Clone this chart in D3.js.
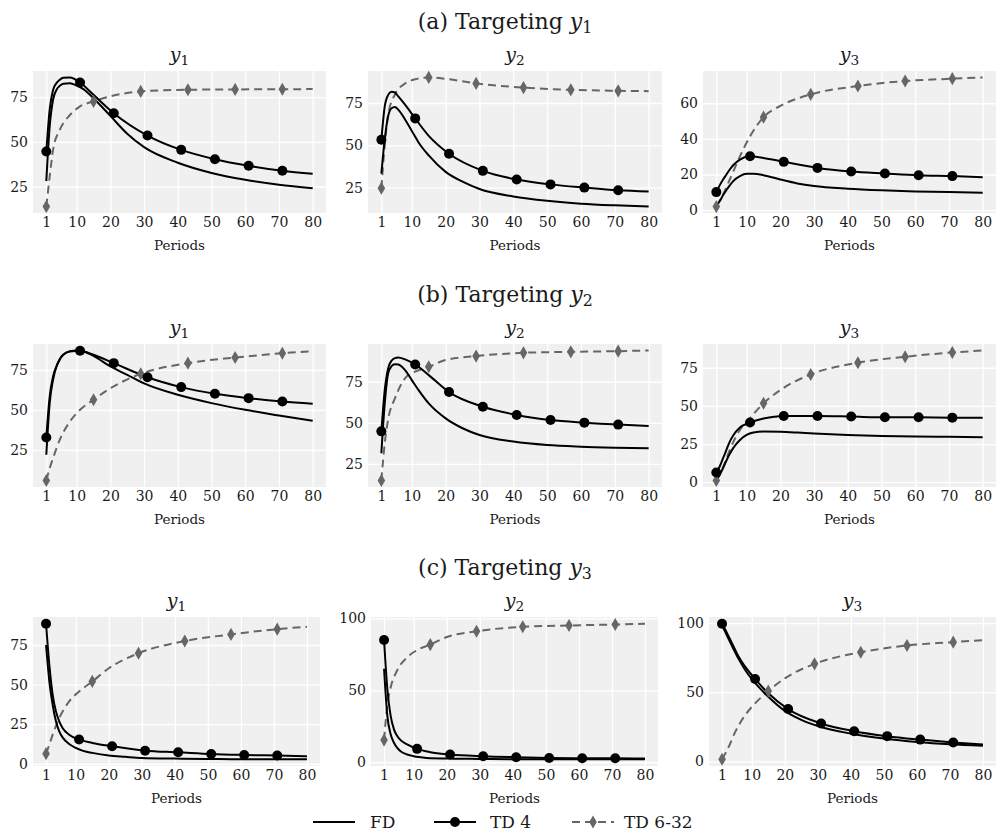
<!DOCTYPE html>
<html>
<head>
<meta charset="utf-8">
<script src="https://cdn.jsdelivr.net/npm/d3@7/dist/d3.min.js"></script>
<style>
  body { margin: 0; background: #fff; }
  svg text { fill: #1a1a1a; font-family: "DejaVu Serif"; }
</style>
</head>
<body>
<svg id="chart" width="996" height="836"></svg>
<script>
// ── data ────────────────────────────────────────────────────────────────────
const periodsFD    = [1, 2, 3, 4, 5, 6, 8, 10, 12, 15, 20, 25, 30, 40, 50, 60, 70, 80];
const periodsTD4   = [1, 2, 3, 4, 5, 6, 8, 11, 15, 21, 31, 41, 51, 61, 71, 80];
const periodsTD632 = [1, 2, 3, 5, 8, 11, 15, 20, 29, 43, 57, 71, 80];
const markersTD4   = [1, 11, 21, 31, 41, 51, 61, 71];
const markersTD632 = [1, 15, 29, 43, 57, 71];
const xTicks = [1, 10, 20, 30, 40, 50, 60, 70, 80];

const rowLabels = ["a", "b", "c"];
const targets = ["1", "2", "3"];
const responses = ["1", "2", "3"];

// (a) Targeting y1 — panels y1, y2, y3
const fdA = [
  [28, 58.6, 73.5, 79, 81.3, 82.5, 82.8, 81.5, 79.5, 74.4, 64.5, 54.5, 47, 38.3, 32.6, 28.8, 26, 24.1],
  [33.3, 53.7, 67.2, 71.9, 72.7, 71.1, 65.3, 58.5, 51.7, 44, 34.3, 28.5, 24.2, 19.8, 17.2, 15.5, 14.5, 13.8],
  [2.3, 5.1, 8.3, 11.3, 13.9, 16.3, 19.1, 20.4, 20.4, 19.6, 17.2, 15, 13.5, 12, 11.1, 10.5, 10.1, 9.8]
];
const td4A = [
  [44.6, 68, 79, 82.8, 84.7, 85.8, 86, 83.2, 76.3, 66, 53.5, 45.5, 40.3, 36.6, 33.8, 32.1],
  [53.3, 73, 79.8, 81.6, 81.2, 78.9, 74, 65.9, 55.6, 45, 34.9, 29.8, 26.9, 25, 23.4, 22.7],
  [10.1, 13.9, 17.2, 20, 22.8, 25.2, 28.4, 30.2, 29.3, 27.1, 23.7, 21.7, 20.6, 19.6, 19.1, 18.5]
];
const td632A = [
  [13.8, 30.6, 45.5, 56.7, 65, 69.8, 72.6, 75.4, 78.2, 79.1, 79.3, 79.4, 79.5],
  [24.6, 50, 68, 80, 86.5, 89, 90.1, 89.3, 86.6, 84.1, 82.8, 82.2, 82],
  [2, 5.1, 8.8, 17.2, 30.2, 41.4, 52.2, 58.5, 65, 69.7, 72.5, 73.8, 74.5]
];

// (b) Targeting y2
const fdB = [
  [21.9, 54.2, 68.8, 77.1, 81.7, 84.4, 86.7, 87.1, 86.5, 83.8, 77.1, 71.9, 66.5, 59.4, 54.2, 50, 46.5, 43.1],
  [31.5, 61.8, 80, 84.5, 85.7, 85.5, 82.1, 76, 69.9, 61.8, 52.7, 46.7, 42.6, 38.6, 36.5, 35.5, 34.9, 34.5],
  [1.1, 4.8, 9.2, 14.2, 18.6, 22.3, 27.7, 31, 32.5, 33.2, 33, 32.5, 31.9, 31, 30.3, 29.9, 29.7, 29.5]
];
const td4B = [
  [32.7, 58.3, 70.8, 77.1, 81.7, 84.4, 86.5, 86.9, 84.4, 79.2, 70.4, 64.2, 60, 57.3, 55.2, 53.8],
  [44.8, 69.9, 83.1, 87.8, 89.4, 89.8, 88.6, 85.5, 79, 68.7, 59.8, 54.8, 51.7, 50.1, 48.9, 48.1],
  [6.4, 10.3, 15.7, 21.2, 26.6, 30.6, 35.8, 39.1, 41.7, 43.4, 43.4, 43, 42.5, 42.5, 42.3, 42.3]
];
const td632B = [
  [5.8, 13.5, 19.8, 31.3, 42.7, 50, 56.3, 63.5, 72.5, 79.2, 82.7, 85.4, 86.7],
  [14.9, 37.6, 52, 64.9, 77, 81.1, 84.1, 88.2, 90.6, 92.6, 93.2, 93.6, 94],
  [1.1, 4.8, 9.9, 21.2, 34.3, 42, 51.7, 60.4, 70.6, 78.3, 82.2, 85, 86.3]
];

// (c) Targeting y3
const fdC = [
  [75, 52, 37.3, 26.8, 20.5, 16.7, 12.5, 10, 8.3, 6.9, 5.2, 4.4, 3.7, 3.3, 3.1, 2.9, 2.9, 2.9],
  [65, 32.2, 19.4, 13.6, 10, 7.7, 5.4, 4.2, 3.5, 2.8, 2.6, 2.4, 2.3, 2.1, 2.1, 2.1, 2.1, 2.1],
  [98.3, 93.5, 88.4, 83.5, 78.7, 74.1, 66.1, 59.6, 54, 46.7, 36.5, 30, 25.5, 20, 16.5, 14, 12.3, 11.2]
];
const td4C = [
  [88.4, 62.4, 43.6, 33.1, 26.8, 22.6, 18.4, 15.3, 13.2, 11.1, 8.3, 7.3, 6.2, 5.6, 5.2, 4.8],
  [85, 50.9, 32.2, 22.9, 18.2, 15.4, 12.4, 9.3, 7, 5.4, 4.2, 3.5, 3, 2.8, 2.8, 2.6],
  [99.5, 95.2, 90.3, 85.5, 80.6, 75.8, 68.5, 59.6, 49.2, 37.8, 27.4, 21.8, 18.2, 15.7, 13.6, 12.1]
];
const td632C = [
  [6.4, 12.1, 18.4, 28.9, 39.4, 45.6, 52, 60.3, 69.8, 77.5, 81.7, 85, 86.5],
  [15.4, 40, 52, 64, 73, 78, 81.8, 87.1, 91.1, 94.2, 95.1, 95.8, 96.3],
  [1.5, 5.6, 10.4, 21.3, 33.4, 41.9, 50.8, 60, 70.5, 78.9, 83.8, 86.2, 87.7]
];

const yTicksA = [[25, 50, 75], [25, 50, 75], [0, 20, 40, 60]];
const yTicksB = [[25, 50, 75], [25, 50, 75], [0, 25, 50, 75]];
const yTicksC = [[0, 25, 50, 75], [0, 50, 100], [0, 50, 100]];

const legendLabels = ["FD", "TD 4", "TD 6-32"];

// ── layout ──────────────────────────────────────────────────────────────────
const rows = [
  { fd: fdA, td4: td4A, td632: td632A, yTicks: yTicksA },
  { fd: fdB, td4: td4B, td632: td632B, yTicks: yTicksB },
  { fd: fdC, td4: td4C, td632: td632C, yTicks: yTicksC }
];
const rowBox = [{ top: 71, bottom: 213 }, { top: 344, bottom: 487 }, { top: 617, bottom: 766 }];
const colBox = [
  [[33, 326], [368, 662], [703, 996]],
  [[33, 326], [368, 662], [703, 996]],
  [[33, 320], [371, 658], [709, 996]]
];
const GREY = "#666666";
const PANEL_BG = "#f0f0f0";
const FONT = "'DejaVu Serif'";

const svg = d3.select("#chart");

function addSubscripted(sel, prefix, sub) {
  if (prefix) sel.append("tspan").text(prefix);
  sel.append("tspan").style("font-style", "italic").text("y");
  sel.append("tspan").attr("font-size", "0.72em").attr("dy", "0.28em").text(sub);
}

function drawPanel(r, c) {
  const row = rows[r];
  const [x0, x1] = colBox[r][c];
  const { top, bottom } = rowBox[r];
  const fd = d3.zip(periodsFD, row.fd[c]);
  const td4 = d3.zip(periodsTD4, row.td4[c]);
  const td632 = d3.zip(periodsTD632, row.td632[c]);

  const x = d3.scaleLinear().domain([1 - 79 * 0.05, 80 + 79 * 0.05]).range([x0, x1]);
  const vals = [...row.fd[c], ...row.td4[c], ...row.td632[c]];
  const lo = d3.min(vals), hi = d3.max(vals), pad = (hi - lo) * 0.05;
  const y = d3.scaleLinear().domain([lo - pad, hi + pad]).range([bottom, top]);

  const g = svg.append("g").attr("class", `panel r${r} c${c}`);
  g.append("rect").attr("x", x0).attr("y", top).attr("width", x1 - x0).attr("height", bottom - top).attr("fill", PANEL_BG);

  // white grid
  g.append("g").attr("transform", `translate(0,${bottom})`)
    .call(d3.axisBottom(x).tickValues(xTicks).tickSize(-(bottom - top)).tickFormat(""))
    .call(a => a.select(".domain").remove())
    .call(a => a.selectAll("line").attr("stroke", "#fff").attr("stroke-width", 1.3));
  g.append("g").attr("transform", `translate(${x0},0)`)
    .call(d3.axisLeft(y).tickValues(row.yTicks[c]).tickSize(-(x1 - x0)).tickFormat(""))
    .call(a => a.select(".domain").remove())
    .call(a => a.selectAll("line").attr("stroke", "#fff").attr("stroke-width", 1.3));

  // tick labels
  const xa = g.append("g").attr("transform", `translate(0,${bottom})`)
    .call(d3.axisBottom(x).tickValues(xTicks).tickSize(0).tickPadding(4).tickFormat(d3.format("d")));
  const ya = g.append("g").attr("transform", `translate(${x0},0)`)
    .call(d3.axisLeft(y).tickValues(row.yTicks[c]).tickSize(0).tickPadding(5).tickFormat(d3.format("d")));
  [xa, ya].forEach(a => {
    a.attr("font-family", null).attr("font-size", null);
    a.select(".domain").remove();
    a.selectAll("text").style("font-family", FONT).style("font-size", "14px").attr("fill", "#1a1a1a");
  });

  g.append("text").attr("x", (x0 + x1) / 2).attr("y", bottom + 37).attr("text-anchor", "middle")
    .style("font-family", FONT).style("font-size", "13.5px").text("Periods");

  const sub = g.append("text").attr("x", (x0 + x1) / 2).attr("y", top - 10)
    .attr("text-anchor", "middle").style("font-family", FONT).style("font-size", "19px");
  addSubscripted(sub, "", responses[c]);

  const line = d3.line().x(d => x(d[0])).y(d => y(d[1])).curve(d3.curveMonotoneX);

  g.append("path").datum(td632).attr("fill", "none").attr("stroke", GREY).attr("stroke-width", 2)
    .attr("stroke-dasharray", "8,5").attr("d", line);
  g.append("path").datum(fd).attr("fill", "none").attr("stroke", "#000").attr("stroke-width", 2).attr("d", line);
  g.append("path").datum(td4).attr("fill", "none").attr("stroke", "#000").attr("stroke-width", 2).attr("d", line);

  g.selectAll("path.diamond").data(td632.filter(d => markersTD632.includes(d[0]))).join("path")
    .attr("class", "diamond").attr("fill", GREY)
    .attr("transform", d => `translate(${x(d[0])},${y(d[1])})`)
    .attr("d", d3.symbol(d3.symbolDiamond, 50));
  g.selectAll("circle.dot").data(td4.filter(d => markersTD4.includes(d[0]))).join("circle")
    .attr("class", "dot").attr("fill", "#000").attr("r", 5)
    .attr("cx", d => x(d[0])).attr("cy", d => y(d[1]));
}

rows.forEach((row, r) => {
  const t = svg.append("text").attr("x", 505).attr("y", rowBox[r].top - 42)
    .attr("text-anchor", "middle").style("font-family", FONT).style("font-size", "22px");
  addSubscripted(t, `(${rowLabels[r]}) Targeting `, targets[r]);
  for (let c = 0; c < 3; c++) drawPanel(r, c);
});

// legend
const legendY = 822;
const lg = svg.append("g").attr("class", "legend");
const items = [
  { x: 313, label: legendLabels[0], dash: null, color: "#000", marker: null, tx: 370 },
  { x: 434, label: legendLabels[1], dash: null, color: "#000", marker: "dot", tx: 490 },
  { x: 572, label: legendLabels[2], dash: "8,5", color: GREY, marker: "diamond", tx: 624 }
];
items.forEach(it => {
  lg.append("line").attr("x1", it.x).attr("x2", it.x + 42).attr("y1", legendY).attr("y2", legendY)
    .attr("stroke", it.color).attr("stroke-width", 2).attr("stroke-dasharray", it.dash);
  if (it.marker === "dot") lg.append("circle").attr("cx", it.x + 21).attr("cy", legendY).attr("r", 5).attr("fill", "#000");
  if (it.marker === "diamond") lg.append("path").attr("transform", `translate(${it.x + 21},${legendY})`)
    .attr("d", d3.symbol(d3.symbolDiamond, 50)).attr("fill", GREY);
  lg.append("text").attr("x", it.tx).attr("y", legendY + 6).style("font-family", FONT).style("font-size", "17px").text(it.label);
});
</script>
</body>
</html>
